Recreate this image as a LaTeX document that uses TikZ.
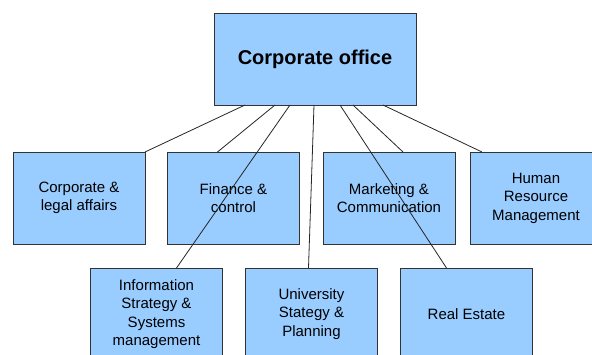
\documentclass[tikz,border=0pt]{standalone}
\usepackage{fontspec}
\setmainfont{Liberation Sans}
\usetikzlibrary{calc}
\definecolor{boxfill}{HTML}{99CCFF}
\definecolor{boxline}{HTML}{333333}
\tikzset{
  unit/.style={draw=boxline, fill=boxfill, line width=0.9pt, minimum width=132pt, minimum height=92pt,
    align=center, outer sep=0pt, inner sep=2pt, font=\fontsize{15}{18.5}\selectfont},
  topunit/.style={unit, minimum width=202pt, font=\fontsize{20}{24}\selectfont\bfseries},
  link/.style={draw=black!85, line width=0.8pt}
}
\begin{document}
\begin{tikzpicture}[x=1pt,y=-1pt]
\useasboundingbox (0,0) rectangle (592,354);
\clip (0,0) rectangle (592,354);
\fill[white] (0,0) rectangle (592,354);
\node[topunit] (top) at (315,59) {Corporate office};
\node[unit] (legal) at (79,198) {Corporate \&\\legal affairs};
\node[unit] (fin) at (233.5,198) {Finance \&\\control};
\node[unit] (mkt) at (389,198) {Marketing \&\\Communication};
\node[unit] (hr) at (536,198) {Human\\Resource\\Management};
\node[unit] (info) at (156.5,314) {Information\\Strategy \&\\Systems\\management};
\node[unit] (univ) at (311.5,314) {University\\Stategy \&\\Planning};
\node[unit] (re) at (466.5,314) {Real Estate};
\draw[link] ($(top.south west)+(31,0)$) -- (legal.north east);
\draw[link] ($(top.south west)+(61,0)$) -- ($(fin.north west)+(50,0)$);
\draw[link] ($(top.south west)+(76,0)$) -- ($(info.north west)+(86,0)$);
\draw[link] ($(top.south west)+(100,0)$) -- ($(univ.north west)+(63,0)$);
\draw[link] ($(top.south west)+(126,0)$) -- ($(re.north west)+(46,0)$);
\draw[link] ($(top.south west)+(139,0)$) -- ($(mkt.north west)+(80,0)$);
\draw[link] ($(top.south west)+(169,0)$) -- ($(hr.north west)+(12,0)$);
\end{tikzpicture}
\end{document}
